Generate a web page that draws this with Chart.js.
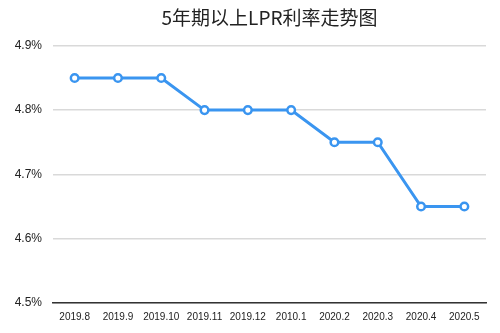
<!DOCTYPE html>
<html>
<head>
<meta charset="utf-8">
<script src="https://cdn.jsdelivr.net/npm/chart.js@4"></script>
<style>
  html, body { margin: 0; padding: 0; background: #fff; }
  #wrap { width: 500px; height: 333px; }
</style>
</head>
<body>
<div id="wrap"><canvas id="lprChart"></canvas></div>
<script>
// ---------- data ----------
var months = ['2019.8', '2019.9', '2019.10', '2019.11', '2019.12', '2010.1', '2020.2', '2020.3', '2020.4', '2020.5'];
var lprRates = [4.85, 4.85, 4.85, 4.80, 4.80, 4.80, 4.75, 4.75, 4.65, 4.65];
var yTicks = [4.5, 4.6, 4.7, 4.8, 4.9];

var blue = '#3a95f0';

var ctx = document.getElementById('lprChart').getContext('2d');
var lprChart = new Chart(ctx, {
    type: 'line',
    data: {
        labels: months,
        datasets: [{
            label: 'LPR',
            data: lprRates,
            borderColor: blue,
            borderWidth: 3,
            backgroundColor: '#fff',
            pointBackgroundColor: '#fff',
            pointBorderColor: blue,
            pointBorderWidth: 2.5,
            pointRadius: 3.8,
            tension: 0,
            fill: false
        }]
    },
    options: {
        responsive: true,
        maintainAspectRatio: false,
        animation: false,
        layout: { padding: { left: 0, right: 14, top: 4, bottom: 2 } },
        plugins: {
            legend: { display: false },
            tooltip: { enabled: false },
            title: {
                display: true,
                fullSize: false,
                text: '5年期以上LPR利率走势图',
                color: '#222',
                font: { family: '"Noto Sans CJK SC", "Liberation Sans", sans-serif', size: 19, weight: 'normal' },
                padding: { top: 2, bottom: 17 }
            }
        },
        scales: {
            x: {
                offset: true,
                grid: { display: false, drawTicks: false },
                border: { display: true, color: '#333', width: 1.5 },
                ticks: {
                    color: '#222',
                    font: { family: '"Liberation Sans", Arial, sans-serif', size: 10 },
                    padding: 8,
                    maxRotation: 0,
                    autoSkip: false
                }
            },
            y: {
                min: 4.5,
                max: 4.9,
                afterBuildTicks: function (axis) {
                    axis.ticks = yTicks.map(function (v) { return { value: v }; });
                },
                afterFit: function (axis) { axis.width = 53; },
                grid: { color: '#d9d9d9', lineWidth: 1.5, drawTicks: false },
                border: { display: false },
                ticks: {
                    color: '#222',
                    font: { family: '"Liberation Sans", Arial, sans-serif', size: 12 },
                    padding: 11,
                    callback: function (v) { return v.toFixed(1) + '%'; }
                }
            }
        }
    }
});
</script>
</body>
</html>
